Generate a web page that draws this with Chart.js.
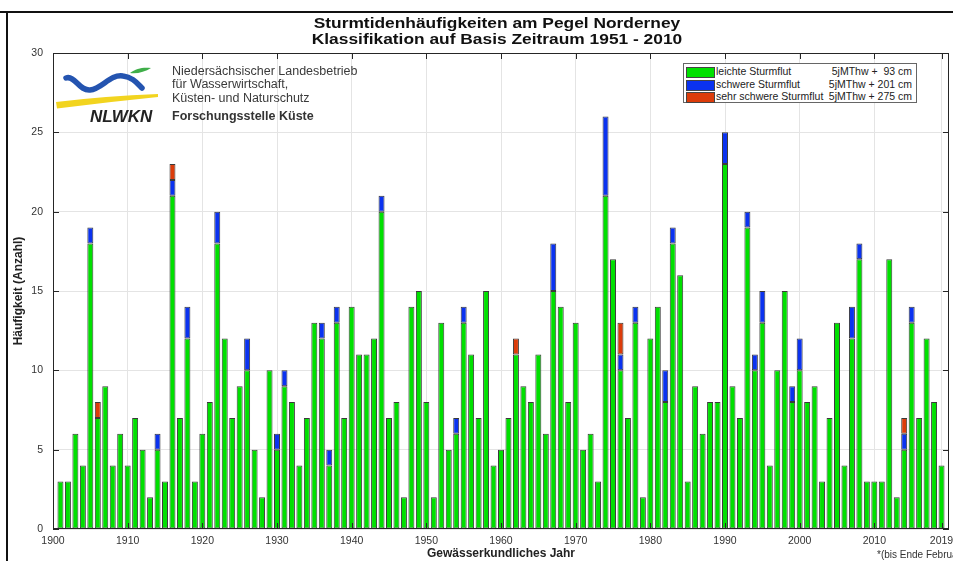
<!DOCTYPE html>
<html lang="de">
<head>
<meta charset="UTF-8">
<title>Sturmtidenhäufigkeiten am Pegel Norderney</title>
<script src="https://cdn.jsdelivr.net/npm/chart.js"></script>
<style>
  body { margin: 0; background: #fff; overflow: hidden; font-family: 'Liberation Sans', Arial, sans-serif; }
  .page { position: relative; width: 953px; height: 561px; overflow: hidden; background: #fff; }
  .chart-wrap { position: absolute; left: 0; top: 0; width: 953px; height: 561px; }
  .frame-top { position: absolute; left: 0; top: 11px; width: 953px; height: 2px; background: #111; }
  .frame-left { position: absolute; left: 6px; top: 11px; width: 2px; height: 550px; background: #111; }
  .title { position: absolute; left: 197px; top: 15px; width: 600px; text-align: center;
           font-weight: bold; font-size: 15.5px; line-height: 15.5px; color: #111;
           transform: scaleX(1.12); transform-origin: 300px 0; }
  .logo { position: absolute; left: 50px; top: 60px; }
  .logo-name { position: absolute; left: 90px; top: 108px; font-size: 17px; line-height: 17px;
               font-weight: bold; font-style: italic; color: #222; }
  .org { position: absolute; left: 172px; font-size: 12.5px; line-height: 12px; color: #3a3a3a; white-space: nowrap; }
  .org.bold { font-weight: bold; color: #333; }
  .legend { position: absolute; left: 683px; top: 63px; width: 232px; height: 38px;
            border: 1px solid #666; background: #fff; }
  .legend .row { position: absolute; left: 0; width: 232px; height: 13px; font-size: 10.5px; line-height: 13px; color: #222; }
  .legend .sw { position: absolute; left: 2px; top: 2px; width: 27px; height: 9px; border: 1px solid #444; }
  .legend .lab { position: absolute; left: 32px; top: 0; white-space: nowrap; }
  .legend .val { position: absolute; right: 4px; top: 0; white-space: pre; }
  .note { position: absolute; left: 877px; top: 549px; font-size: 10px; line-height: 12px; color: #333; white-space: nowrap; }
</style>
</head>
<body>
<div class="page">
  <div class="chart-wrap"><canvas id="chart"></canvas></div>
  <div class="frame-top"></div>
  <div class="frame-left"></div>
  <div class="title">Sturmtidenhäufigkeiten am Pegel Norderney<br>Klassifikation auf Basis Zeitraum 1951 - 2010</div>

  <svg class="logo" width="120" height="55" viewBox="0 0 120 55">
    <path d="M16,18 C25,15 29,31 40,30 C52,29 60,14 73,16 C82,17 87,23 92,28" fill="none" stroke="#2454b0" stroke-width="5.5" stroke-linecap="round"/>
    <path d="M80,13 C86,8 94,7 101,8 C95,12 87,14 80,13 Z" fill="#3fae49"/>
    <path d="M6,42 Q55,36 108,34 L108,37 Q58,42 7,48.5 Z" fill="#f2d41f"/>
  </svg>
  <div class="logo-name">NLWKN</div>
  <div class="org" style="top:65px">Niedersächsischer Landesbetrieb</div>
  <div class="org" style="top:78px">für Wasserwirtschaft,</div>
  <div class="org" style="top:91.5px">Küsten- und Naturschutz</div>
  <div class="org bold" style="top:110px">Forschungsstelle Küste</div>

  <div class="legend">
    <div class="row" style="top:1px"><span class="sw" style="background:#00e000"></span><span class="lab">leichte Sturmflut</span><span class="val">5jMThw +  93 cm</span></div>
    <div class="row" style="top:13.5px"><span class="sw" style="background:#0a32f0"></span><span class="lab">schwere Sturmflut</span><span class="val">5jMThw + 201 cm</span></div>
    <div class="row" style="top:26px"><span class="sw" style="background:#dc3c0a"></span><span class="lab">sehr schwere Sturmflut</span><span class="val">5jMThw + 275 cm</span></div>
  </div>

  <div class="note">*(bis Ende Februar)</div>
</div>

<script>
// Hydrological years shown as bars
const years = [
  1901, 1902, 1903, 1904, 1905, 1906, 1907, 1908, 1909, 1910,
  1911, 1912, 1913, 1914, 1915, 1916, 1917, 1918, 1919, 1920,
  1921, 1922, 1923, 1924, 1925, 1926, 1927, 1928, 1929, 1930,
  1931, 1932, 1933, 1934, 1935, 1936, 1937, 1938, 1939, 1940,
  1941, 1942, 1943, 1944, 1945, 1946, 1947, 1948, 1949, 1950,
  1951, 1952, 1953, 1954, 1955, 1956, 1957, 1958, 1959, 1960,
  1961, 1962, 1963, 1964, 1965, 1966, 1967, 1968, 1969, 1970,
  1971, 1972, 1973, 1974, 1975, 1976, 1977, 1978, 1979, 1980,
  1981, 1982, 1983, 1984, 1985, 1986, 1987, 1988, 1989, 1990,
  1991, 1992, 1993, 1994, 1995, 1996, 1997, 1998, 1999, 2000,
  2001, 2002, 2003, 2004, 2005, 2006, 2007, 2008, 2009, 2010,
  2011, 2012, 2013, 2014, 2015, 2016, 2017, 2018, 2019
];

// leichte Sturmflut (5jMThw + 93 cm)
const leichte = [
  3, 3, 6, 4, 18, 7, 9, 4, 6, 4,
  7, 5, 2, 5, 3, 21, 7, 12, 3, 6,
  8, 18, 12, 7, 9, 10, 5, 2, 10, 5,
  9, 8, 4, 7, 13, 12, 4, 13, 7, 14,
  11, 11, 12, 20, 7, 8, 2, 14, 15, 8,
  2, 13, 5, 6, 13, 11, 7, 15, 4, 5,
  7, 11, 9, 8, 11, 6, 15, 14, 8, 13,
  5, 6, 3, 21, 17, 10, 7, 13, 2, 12,
  14, 8, 18, 16, 3, 9, 6, 8, 8, 23,
  9, 7, 19, 10, 13, 4, 10, 15, 8, 10,
  8, 9, 3, 7, 13, 4, 12, 17, 3, 3,
  3, 17, 2, 5, 13, 7, 12, 8, 4
];

// schwere Sturmflut (5jMThw + 201 cm)
const schwere = [
  0, 0, 0, 0, 1, 0, 0, 0, 0, 0,
  0, 0, 0, 1, 0, 1, 0, 2, 0, 0,
  0, 2, 0, 0, 0, 2, 0, 0, 0, 1,
  1, 0, 0, 0, 0, 1, 1, 1, 0, 0,
  0, 0, 0, 1, 0, 0, 0, 0, 0, 0,
  0, 0, 0, 1, 1, 0, 0, 0, 0, 0,
  0, 0, 0, 0, 0, 0, 3, 0, 0, 0,
  0, 0, 0, 5, 0, 1, 0, 1, 0, 0,
  0, 2, 1, 0, 0, 0, 0, 0, 0, 2,
  0, 0, 1, 1, 2, 0, 0, 0, 1, 2,
  0, 0, 0, 0, 0, 0, 2, 1, 0, 0,
  0, 0, 0, 1, 1, 0, 0, 0, 0
];

// sehr schwere Sturmflut (5jMThw + 275 cm)
const sehrSchwere = [
  0, 0, 0, 0, 0, 1, 0, 0, 0, 0,
  0, 0, 0, 0, 0, 1, 0, 0, 0, 0,
  0, 0, 0, 0, 0, 0, 0, 0, 0, 0,
  0, 0, 0, 0, 0, 0, 0, 0, 0, 0,
  0, 0, 0, 0, 0, 0, 0, 0, 0, 0,
  0, 0, 0, 0, 0, 0, 0, 0, 0, 0,
  0, 1, 0, 0, 0, 0, 0, 0, 0, 0,
  0, 0, 0, 0, 0, 2, 0, 0, 0, 0,
  0, 0, 0, 0, 0, 0, 0, 0, 0, 0,
  0, 0, 0, 0, 0, 0, 0, 0, 0, 0,
  0, 0, 0, 0, 0, 0, 0, 0, 0, 0,
  0, 0, 0, 1, 0, 0, 0, 0, 0
];

const yearTicks = [1900, 1910, 1920, 1930, 1940, 1950, 1960, 1970, 1980, 1990, 2000, 2010, 2019];

Chart.defaults.font.family = "'Liberation Sans', Arial, sans-serif";

function points(values) {
  return years.map((yr, i) => ({ x: yr, y: values[i] ? values[i] : null }));
}

// MATLAB-like box with inward ticks
const boxPlugin = {
  id: 'box',
  afterDatasetsDraw(chart) {
    const { ctx, chartArea: a, scales: { x, y } } = chart;
    ctx.save();
    ctx.strokeStyle = '#262626';
    ctx.lineWidth = 1;
    ctx.strokeRect(a.left + 0.5, a.top + 0.5, a.right - a.left - 1, a.bottom - a.top - 1);
    ctx.beginPath();
    yearTicks.forEach(v => {
      const px = Math.round(x.getPixelForValue(v)) + 0.5;
      ctx.moveTo(px, a.top); ctx.lineTo(px, a.top + 6);
      ctx.moveTo(px, a.bottom); ctx.lineTo(px, a.bottom - 6);
    });
    y.ticks.forEach(t => {
      const py = Math.round(y.getPixelForValue(t.value)) + 0.5;
      ctx.moveTo(a.left, py); ctx.lineTo(a.left + 6, py);
      ctx.moveTo(a.right, py); ctx.lineTo(a.right - 6, py);
    });
    ctx.stroke();
    ctx.restore();
  }
};

const barStyle = { borderColor: '#3a3a3a', borderWidth: 1, borderSkipped: false, barPercentage: 0.8, categoryPercentage: 1.0 };

new Chart(document.getElementById('chart'), {
  type: 'bar',
  data: {
    datasets: [
      Object.assign({ label: 'leichte Sturmflut', data: points(leichte), backgroundColor: '#00e000' }, barStyle),
      Object.assign({ label: 'schwere Sturmflut', data: points(schwere), backgroundColor: '#0a32f0' }, barStyle),
      Object.assign({ label: 'sehr schwere Sturmflut', data: points(sehrSchwere), backgroundColor: '#dc3c0a' }, barStyle)
    ]
  },
  options: {
    responsive: true,
    maintainAspectRatio: false,
    animation: false,
    layout: { padding: { top: 53, right: 4, left: 0, bottom: 0 } },
    plugins: {
      legend: { display: false },
      tooltip: { enabled: false },
      title: { display: false }
    },
    scales: {
      x: {
        type: 'linear',
        stacked: true,
        min: 1900,
        max: 2020,
        offset: false,
        grid: { color: '#e4e4e4', drawTicks: false, offset: false },
        border: { display: false },
        afterBuildTicks: s => { s.ticks = yearTicks.map(v => ({ value: v })); },
        afterFit: s => { s.height = 32; s.paddingLeft = 0; s.paddingRight = 0; },
        ticks: {
          autoSkip: false, maxRotation: 0, padding: 6, color: '#333',
          font: { size: 10.5 },
          callback: v => String(v)
        },
        title: {
          display: true, text: 'Gewässerkundliches Jahr', color: '#222',
          font: { size: 12, weight: 'bold' }, padding: { top: 0, bottom: 0 }
        }
      },
      y: {
        stacked: true,
        min: 0,
        max: 30,
        grid: { color: '#e4e4e4', drawTicks: false },
        border: { display: false },
        afterFit: s => { s.width = 53; },
        ticks: { stepSize: 5, padding: 10, color: '#333', font: { size: 10.5 } },
        title: {
          display: true, text: 'Häufigkeit (Anzahl)', color: '#222',
          font: { size: 12, weight: 'bold' }, padding: { top: 11, bottom: 0 }
        }
      }
    }
  },
  plugins: [boxPlugin]
});
</script>
</body>
</html>
